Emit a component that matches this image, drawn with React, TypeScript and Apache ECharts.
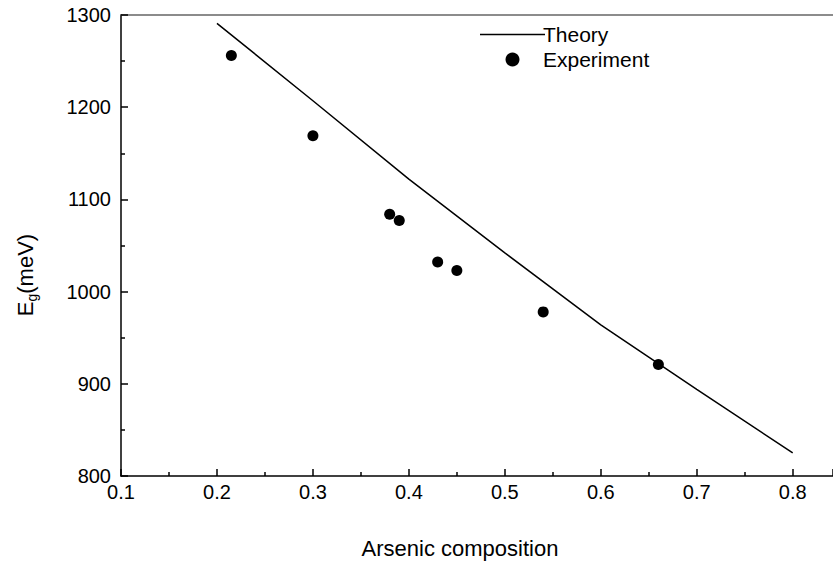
import React, { useEffect, useRef } from "react";
import * as echarts from "echarts";

const theoryX = [0.2, 0.3, 0.4, 0.5, 0.6, 0.7, 0.8];
const theoryY = [1291, 1207, 1122, 1042, 964, 894, 825];
const expX = [0.215, 0.3, 0.38, 0.39, 0.43, 0.45, 0.54, 0.66];
const expY = [1256, 1169, 1084, 1077, 1032, 1023, 978, 921];

const FONT = "Liberation Sans, Arial, sans-serif";

export default function App() {
  const ref = useRef<HTMLDivElement>(null);
  useEffect(() => {
    if (!ref.current) return;
    const chart = echarts.init(ref.current, null, { renderer: "svg" });
    chart.setOption({
      animation: false,
      backgroundColor: "#ffffff",
      textStyle: { fontFamily: FONT },
      grid: { left: 121, top: 15, right: 0, bottom: 85, containLabel: false },
      legend: {
        orient: "vertical",
        left: 480,
        top: 24,
        padding: 0,
        itemWidth: 65,
        itemHeight: 14,
        itemGap: 4,
        textStyle: { fontSize: 21, color: "#000", fontFamily: FONT, padding: [0, 0, 0, -7] },
        data: [
          { name: "Theory", icon: "path://M0,0 L65,0 L65,1.5 L0,1.5 Z", itemStyle: { color: "#000" } },
          { name: "Experiment", icon: "circle", itemStyle: { color: "#000", opacity: 1 } },
        ],
      },
      xAxis: [
        {
          type: "value",
          min: 0.1,
          max: 0.842,
          interval: 0.1,
          position: "bottom",
          axisLine: { show: true, onZero: false, lineStyle: { color: "#000", width: 1.5 } },
          axisTick: { show: true, inside: true, length: 7, lineStyle: { color: "#000", width: 1.5 } },
          minorTick: { show: true, splitNumber: 2, length: 4, lineStyle: { color: "#000", width: 1.5 } },
          splitLine: { show: false },
          axisLabel: {
            color: "#000",
            fontSize: 20,
            fontFamily: FONT,
            margin: 6,
            showMaxLabel: false,
            formatter: (v: number) => v.toFixed(1),
          },
        },
        {
          type: "value",
          min: 0.1,
          max: 0.842,
          position: "top",
          axisLine: { show: true, onZero: false, lineStyle: { color: "#666", width: 1.5 } },
          axisTick: { show: false },
          axisLabel: { show: false },
          splitLine: { show: false },
        },
      ],
      yAxis: {
        type: "value",
        min: 800,
        max: 1300,
        interval: 100,
        axisLine: { show: true, onZero: false, lineStyle: { color: "#000", width: 1.5 } },
        axisTick: { show: true, inside: true, length: 7, lineStyle: { color: "#000", width: 1.5 } },
        minorTick: { show: true, splitNumber: 2, length: 4, lineStyle: { color: "#000", width: 1.5 } },
        splitLine: { show: false },
        axisLabel: { color: "#000", fontSize: 20, fontFamily: FONT, margin: 10, formatter: (v: number) => String(v) },
      },
      graphic: [
        {
          type: "text",
          x: 460,
          y: 548,
          style: {
            text: "Arsenic composition",
            fontSize: 22,
            fontFamily: FONT,
            fill: "#000",
            align: "center",
            verticalAlign: "middle",
          },
        },
        {
          type: "text",
          x: 25,
          y: 275,
          rotation: Math.PI / 2,
          style: {
            text: "{a|E}{b|g}{a|(meV)}",
            fontFamily: FONT,
            fill: "#000",
            align: "center",
            verticalAlign: "middle",
            rich: {
              a: { fontSize: 22, fontFamily: FONT, fill: "#000", verticalAlign: "middle" },
              b: { fontSize: 14, fontFamily: FONT, fill: "#000", padding: [13, 0, 0, 0] },
            },
          },
        },
      ],
      series: [
        {
          name: "Theory",
          type: "line",
          data: theoryX.map((x, i) => [x, theoryY[i]]),
          symbol: "none",
          lineStyle: { color: "#000", width: 1.5 },
          itemStyle: { color: "#000" },
        },
        {
          name: "Experiment",
          type: "scatter",
          data: expX.map((x, i) => [x, expY[i]]),
          symbol: "circle",
          symbolSize: 11,
          itemStyle: { color: "#000", opacity: 1 },
        },
      ],
    });
    return () => chart.dispose();
  }, []);
  return <div ref={ref} style={{ width: 833, height: 561, position: "absolute", left: 0, top: 0 }} />;
}
